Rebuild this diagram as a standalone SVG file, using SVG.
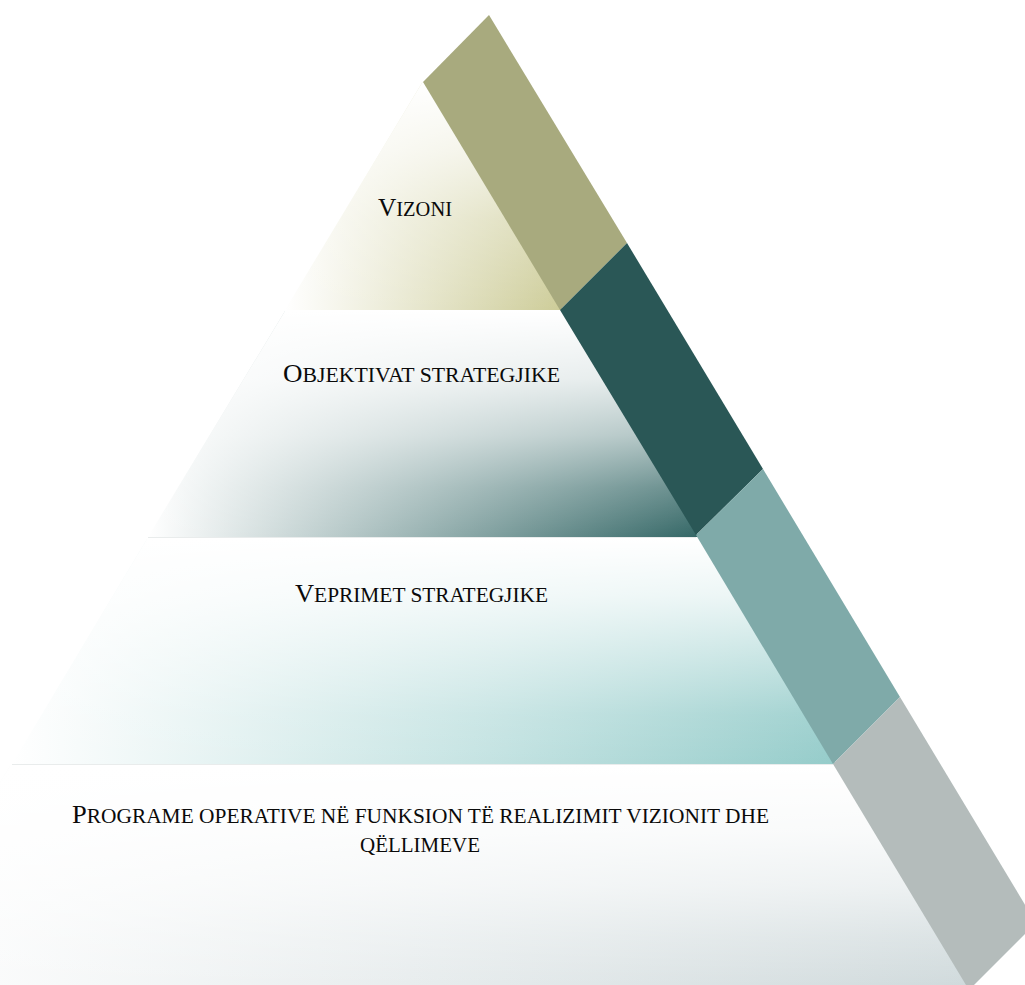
<svg xmlns="http://www.w3.org/2000/svg" width="1025" height="985" viewBox="0 0 1025 985">
  <style>
    .lbl { font-family: "Liberation Serif", "Times New Roman", serif; fill: #0A0A0A; }
    .big { font-size: 26px; }
    .sc { font-size: 21px; }
    .edge { stroke: #E9ECEC; stroke-width: 1; }
  </style>
  <defs>
    <linearGradient id="h1" x1="0" y1="0" x2="1" y2="0">
      <stop offset="0" stop-color="#FFFFFF"/>
      <stop offset="1" stop-color="#CDCC98"/>
    </linearGradient>
    <linearGradient id="h2" x1="0" y1="0" x2="1" y2="0">
      <stop offset="0" stop-color="#FFFFFF"/>
      <stop offset="1" stop-color="#346766"/>
    </linearGradient>
    <linearGradient id="h3" x1="0" y1="0" x2="1" y2="0">
      <stop offset="0" stop-color="#FFFFFF"/>
      <stop offset="0.6" stop-color="#C2E2E1"/>
      <stop offset="1" stop-color="#95CCCA"/>
    </linearGradient>
    <linearGradient id="h4" x1="0" y1="0" x2="1" y2="0">
      <stop offset="0" stop-color="#FFFFFF"/>
      <stop offset="1" stop-color="#D0DADC"/>
    </linearGradient>
    <linearGradient id="vTop" x1="0" y1="0" x2="0" y2="1">
      <stop offset="0" stop-color="#FFFFFF" stop-opacity="1"/>
      <stop offset="0.3" stop-color="#FFFFFF" stop-opacity="0.7"/>
      <stop offset="0.6" stop-color="#FFFFFF" stop-opacity="0.3"/>
      <stop offset="1" stop-color="#FFFFFF" stop-opacity="0"/>
    </linearGradient>
    <linearGradient id="vFade" x1="0" y1="0" x2="0" y2="1">
      <stop offset="0" stop-color="#FFFFFF" stop-opacity="1"/>
      <stop offset="0.3" stop-color="#FFFFFF" stop-opacity="0.86"/>
      <stop offset="0.55" stop-color="#FFFFFF" stop-opacity="0.6"/>
      <stop offset="0.78" stop-color="#FFFFFF" stop-opacity="0.25"/>
      <stop offset="1" stop-color="#FFFFFF" stop-opacity="0"/>
    </linearGradient>
    <linearGradient id="vFade3" x1="0" y1="0" x2="0" y2="1">
      <stop offset="0" stop-color="#FFFFFF" stop-opacity="1"/>
      <stop offset="0.25" stop-color="#FFFFFF" stop-opacity="0.8"/>
      <stop offset="0.5" stop-color="#FFFFFF" stop-opacity="0.48"/>
      <stop offset="0.78" stop-color="#FFFFFF" stop-opacity="0.12"/>
      <stop offset="1" stop-color="#FFFFFF" stop-opacity="0"/>
    </linearGradient>
  </defs>

  <rect x="0" y="0" width="1025" height="985" fill="#FFFFFF"/>

  <g id="layer-vizoni">
    <polygon points="422.5,82 425,82 563,310 285,310" fill="url(#h1)"/>
    <polygon points="422.5,82 425,82 563,310 285,310" fill="url(#vTop)"/>
    <text class="lbl" x="378" y="216" textLength="74" lengthAdjust="spacingAndGlyphs"><tspan class="big">V</tspan><tspan class="sc">IZONI</tspan></text>
  </g>

  <g id="layer-objektivat">
    <polygon points="285,311 563,311 699,537 148,537" fill="url(#h2)"/>
    <polygon points="285,311 563,311 699,537 148,537" fill="url(#vFade)"/>
    <line class="edge" x1="148" y1="537.5" x2="696" y2="537.5"/>
    <text class="lbl" x="283" y="382" textLength="277" lengthAdjust="spacingAndGlyphs"><tspan class="big">O</tspan><tspan class="sc">BJEKTIVAT STRATEGJIKE</tspan></text>
  </g>

  <g id="layer-veprimet">
    <polygon points="147,539 700,539 836,764 12,764" fill="url(#h3)"/>
    <polygon points="147,539 700,539 836,764 12,764" fill="url(#vFade3)"/>
    <line class="edge" x1="12" y1="764.5" x2="833" y2="764.5"/>
    <text class="lbl" x="295" y="602" textLength="253" lengthAdjust="spacingAndGlyphs"><tspan class="big">V</tspan><tspan class="sc">EPRIMET STRATEGJIKE</tspan></text>
  </g>

  <g id="layer-programe">
    <polygon points="10,766 837,766 971,985 -124,985" fill="url(#h4)"/>
    <polygon points="10,766 837,766 971,985 -124,985" fill="url(#vFade)"/>
    <text class="lbl" x="72" y="823" textLength="697" lengthAdjust="spacingAndGlyphs"><tspan class="big">P</tspan><tspan class="sc">ROGRAME OPERATIVE NË FUNKSION TË REALIZIMIT VIZIONIT DHE</tspan></text>
    <text class="lbl sc" x="360" y="852" textLength="120" lengthAdjust="spacingAndGlyphs">QËLLIMEVE</text>
  </g>

  <g id="band">
    <polygon id="band-1" points="423,82 489,15 627,243 560,310" fill="#A8AA7E"/>
    <polygon id="band-2" points="560,310 627,243 763,469 696,535" fill="#2A5756"/>
    <polygon id="band-3" points="696,535 763,469 900,697 833,764" fill="#7FAAA9"/>
    <polygon id="band-4" points="833,764 900,697 1036,923 969,990" fill="#B4BCBB"/>
  </g>

  <g id="connectors"/>
</svg>
